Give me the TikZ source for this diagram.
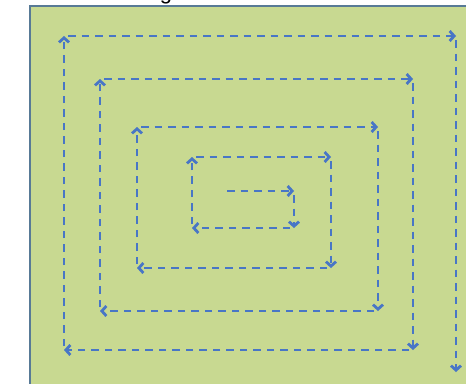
\documentclass[tikz,border=0pt]{standalone}
\usepackage{fontspec}
\setmainfont{Liberation Sans}
\usetikzlibrary{arrows.meta}
\definecolor{bggreen}{RGB}{200,217,145}
\definecolor{framec}{RGB}{88,122,150}
\definecolor{spiral}{RGB}{72,118,198}
\begin{document}
\begin{tikzpicture}[x=1pt,y=-1pt,
  seg/.style={draw=spiral, line width=2.8pt, dash pattern=on 7.5pt off 6pt,
    -{Straight Barb[length=4.5pt,width=10pt]}, shorten <=4pt}]
\useasboundingbox (0,0) rectangle (466,383);
\fill[white] (0,0) rectangle (466,383);
\fill[bggreen] (30,6) rectangle (470,390);
\draw[framec, line width=1.5pt] (30,390) -- (30,6) -- (470,6);
\node[anchor=base, inner sep=0pt, font=\fontsize{22}{22}\selectfont] (title) at (166,-1) {g};
\coordinate (p0) at (227,191);
\coordinate (p1) at (294,191);
\coordinate (p2) at (294,228);
\coordinate (p3) at (192,228);
\coordinate (p4) at (192,157);
\coordinate (p5) at (331,157);
\coordinate (p6) at (331,268);
\coordinate (p7) at (137,268);
\coordinate (p8) at (137,127);
\coordinate (p9) at (378,127);
\coordinate (p10) at (378,311);
\coordinate (p11) at (100,311);
\coordinate (p12) at (100,79);
\coordinate (p13) at (413,79);
\coordinate (p14) at (413,350);
\coordinate (p15) at (64,350);
\coordinate (p16) at (64,36);
\coordinate (p17) at (456,36);
\coordinate (p18) at (456,372);
\draw[seg, shorten <=0pt] (p0) -- (p1);
\foreach \a/\b in {1/2,2/3,3/4,4/5,5/6,6/7,7/8,8/9,9/10,10/11,11/12,12/13,13/14,14/15,15/16,16/17,17/18}
  \draw[seg] (p\a) -- (p\b);
\end{tikzpicture}
\end{document}
